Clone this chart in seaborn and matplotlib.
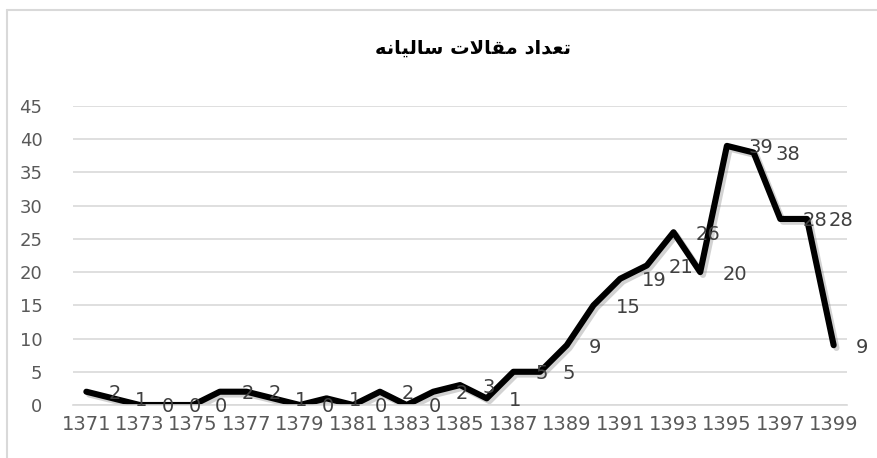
import numpy as np
import seaborn as sns
import matplotlib.pyplot as plt
import matplotlib.patheffects as pe
from matplotlib.lines import Line2D

years = list(range(1371, 1400))
counts = [2, 1, 0, 0, 0, 2, 2, 1, 0, 1, 0, 2, 0, 2, 3, 1, 5, 5, 9, 15, 19, 21, 26, 20, 39, 38, 28, 28, 9]
tick_years = years[::2]
y_ticks = list(range(0, 50, 5))

# title "تعداد مقالات سالیانه" written with presentation forms, visual order
title_glyphs = ['\uFE97', '\uFECC', '\uFEAA', '\uFE8D', '\uFEA9', ' ',
                '\uFEE3', '\uFED8', '\uFE8E', '\uFEFB', '\uFE95', ' ',
                '\uFEB3', '\uFE8E', '\uFEDF', '\uFEF4', '\uFE8E', '\uFEE7', '\uFEEA']
title = ''.join(reversed(title_glyphs))

W, H = 877, 458
sns.set_style('white')
plt.rcParams['font.family'] = ['DejaVu Sans']

fig = plt.figure(figsize=(W / 100, H / 100), dpi=100)
ax = fig.add_axes([73 / W, 1 - 405 / H, (847 - 73) / W, (405 - 106) / H])

sns.lineplot(x=years, y=counts, ax=ax, color='black', linewidth=4.4,
             solid_joinstyle='round', solid_capstyle='round',
             path_effects=[pe.SimpleLineShadow(offset=(2, -2), shadow_color='gray', alpha=0.35),
                           pe.Normal()])

for yr, v in zip(years, counts):
    ax.annotate(str(v), (yr, v), xytext=(22, 0), textcoords='offset pixels',
                ha='left', va='center_baseline', fontsize=14, color='#404040',
                annotation_clip=False)

ax.set_xlim(years[0] - 0.5, years[-1] + 0.5)
ax.set_ylim(0, 45)
ax.set_xticks(tick_years)
ax.set_xticklabels([str(y) for y in tick_years], fontsize=14, color='#595959')
ax.set_yticks(y_ticks)
ax.set_yticklabels([str(y) for y in y_ticks], fontsize=13, color='#595959')
ax.tick_params(axis='both', length=0)
ax.tick_params(axis='y', pad=22)
ax.tick_params(axis='x', pad=7)
ax.grid(axis='y', color='#d9d9d9', linewidth=1.2)
ax.set_axisbelow(True)
for s in ['top', 'right', 'left']:
    ax.spines[s].set_visible(False)
ax.spines['bottom'].set_color('#d9d9d9')
ax.spines['bottom'].set_linewidth(1.2)
ax.set_xlabel('')
ax.set_ylabel('')

fig.text(473 / W, 1 - 48 / H, title, ha='center', va='center',
         fontsize=14, fontweight='bold', color='black')

# chart frame (only top and left edges are in view)
fig.add_artist(Line2D([7 / W, 1], [1 - 10 / H, 1 - 10 / H], transform=fig.transFigure,
                      color='#d9d9d9', linewidth=1.5))
fig.add_artist(Line2D([7 / W, 7 / W], [0, 1 - 10 / H], transform=fig.transFigure,
                      color='#d9d9d9', linewidth=1.5))

fig.savefig('out.png', dpi=100)
